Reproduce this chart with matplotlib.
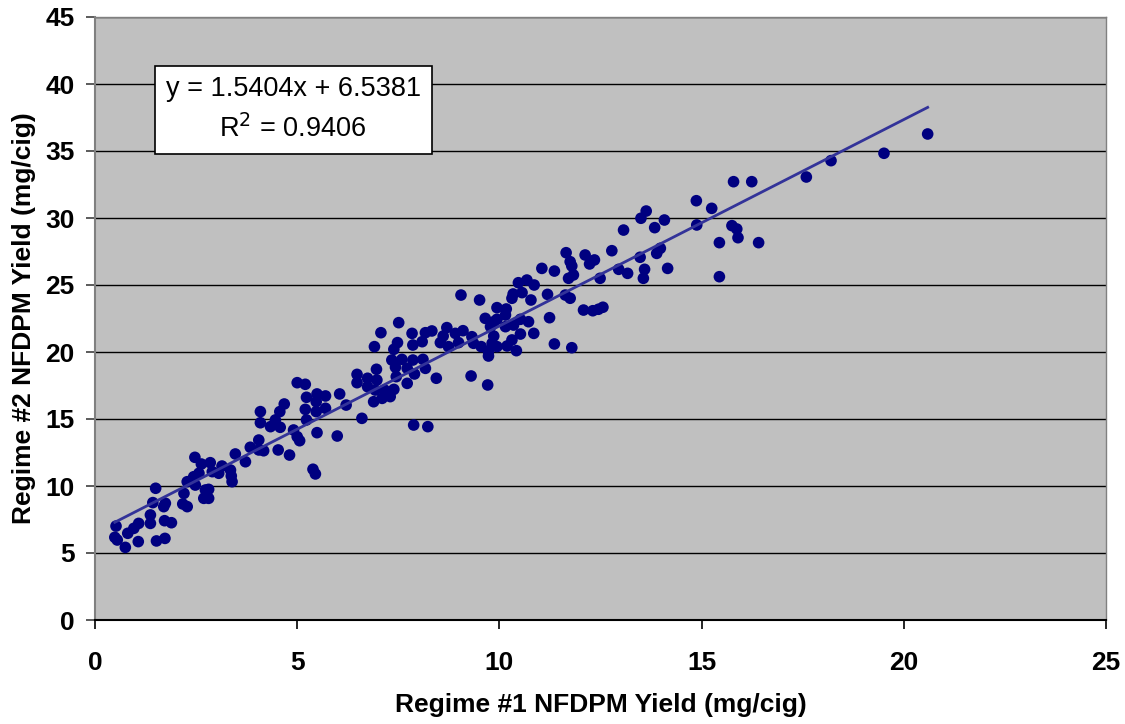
import matplotlib
matplotlib.use("Agg")
import matplotlib.pyplot as plt
import numpy as np

plt.rcParams['font.family'] = ['Liberation Sans', 'DejaVu Sans']

regime1 = [
    0.52, 0.49, 0.55, 0.75, 0.81, 0.96, 1.08, 1.07, 1.37, 1.37, 1.50, 1.43, 1.52, 1.73, 1.74, 1.70, 1.72, 1.89,
    2.20, 2.17, 2.28, 2.28, 2.48, 2.47, 2.44,
    2.73, 2.69, 2.81, 2.81, 2.57, 2.63, 2.85, 2.90, 3.06, 3.14, 3.35, 3.37, 3.39, 3.47, 3.72, 3.84, 4.05, 4.17,
    4.05, 4.53, 4.81, 4.09, 4.09, 4.34, 4.46, 4.57, 4.68, 4.58,
    4.91, 5.00, 5.06, 5.00, 5.20, 5.23, 5.20, 5.23, 5.47, 5.49, 5.47, 5.70, 5.70, 5.49, 5.39, 5.45, 5.99, 6.05,
    6.21, 6.48, 6.48, 6.60,
    6.91, 6.96, 6.89, 7.51, 7.07, 7.84, 8.17, 8.33, 8.70, 8.91, 9.10, 8.61, 8.54, 8.74, 8.99, 9.32, 9.36, 8.09,
    7.86, 7.48, 7.39, 7.34, 7.59, 7.86, 8.11, 7.43, 7.72, 8.17, 7.90, 7.45, 6.74, 6.97, 6.74, 6.93, 7.16, 7.39,
    7.30, 7.10, 7.72, 8.44, 9.30, 7.88, 8.23, 9.05, 9.51,
    9.55, 9.86, 9.82, 9.94, 10.19, 10.31, 10.52, 10.42, 9.73, 9.73, 10.85, 11.36, 11.79, 9.71, 9.94, 10.17,
    10.15, 9.65, 9.86, 9.94, 10.52, 10.72, 10.15, 10.35, 9.78, 11.24, 12.08, 12.31, 12.45, 12.56, 10.68, 10.47,
    10.86, 10.56, 10.34, 10.31, 10.78, 11.19, 11.63, 11.75, 11.05, 11.36, 11.65, 12.12, 12.35, 12.23, 12.78,
    11.75, 11.79, 11.83, 11.71, 12.95, 13.17, 12.49, 13.07,
    13.59, 13.56, 14.16, 13.48, 13.89, 13.98, 13.84, 14.08, 13.50, 13.63, 14.87, 15.25, 14.88, 15.75, 15.87,
    15.90, 15.44, 16.41, 15.44, 15.79, 16.24,
    17.59, 18.20, 19.51, 20.59,
]
regime2 = [
    7.01, 6.17, 5.97, 5.42, 6.47, 6.84, 7.21, 5.85, 7.84, 7.21, 9.83, 8.76, 5.90, 6.09, 8.71, 8.46, 7.41, 7.26,
    9.45, 8.66, 8.46, 10.32, 10.07, 12.14, 10.69,
    9.70, 9.08, 9.08, 9.75, 10.95, 11.64, 11.74, 11.07, 10.95, 11.49, 11.19, 10.75, 10.32, 12.39, 11.81, 12.89,
    12.69, 12.63, 13.43, 12.69, 12.31, 15.55, 14.72, 14.43, 14.93, 15.55, 16.12, 14.38,
    14.18, 13.68, 13.38, 17.71, 17.59, 16.62, 15.72, 14.93, 16.29, 16.87, 15.55, 16.72, 15.80, 13.98, 11.25,
    10.90, 13.73, 16.87, 16.04, 18.33, 17.71, 15.05,
    20.40, 18.71, 16.29, 22.19, 21.44, 21.39, 21.44, 21.57, 21.82, 21.39, 21.59, 21.19, 20.70, 20.40, 20.70,
    21.14, 20.65, 20.77, 20.52, 20.70, 20.20, 19.40, 19.45, 19.40, 19.45, 18.86, 18.78, 18.78, 18.36, 18.16,
    18.04, 17.91, 17.41, 17.16, 17.16, 17.21, 16.67, 16.54, 17.66, 18.04, 18.21, 14.55, 14.43, 24.25, 23.88,
    20.40, 21.19, 20.65, 20.40, 20.45, 20.90, 21.34, 20.10, 20.02, 19.70, 21.39, 20.60, 20.32, 17.54, 23.31,
    23.21, 22.76, 22.51, 22.26, 22.44, 22.44, 22.26, 21.89, 22.01, 21.89, 22.56, 23.13, 23.08, 23.19, 23.34,
    25.37, 25.17, 25.00, 24.43, 24.33, 24.01, 23.88, 24.30, 24.25, 24.01, 26.24, 26.04, 27.41, 27.24, 26.87,
    26.57, 27.56, 26.74, 26.42, 25.75, 25.50, 26.17, 25.87, 25.50, 29.10,
    26.17, 25.50, 26.24, 27.07, 27.36, 27.74, 29.28, 29.85, 29.98, 30.52, 31.29, 30.72, 29.48, 29.43, 29.18,
    28.53, 28.16, 28.16, 25.62, 32.71, 32.71,
    33.06, 34.28, 34.83, 36.27,
]

slope = 1.5404
intercept = 6.5381
r_squared = 0.9406

x_ticks = [0, 5, 10, 15, 20, 25]
y_ticks = [0, 5, 10, 15, 20, 25, 30, 35, 40, 45]
x_label = "Regime #1 NFDPM Yield (mg/cig)"
y_label = "Regime #2 NFDPM Yield (mg/cig)"

fig = plt.figure(figsize=(11.25, 7.24), dpi=100)
ax = fig.add_axes([95/1125, 1 - 620/724, (1106-95)/1125, (620-17)/724])
ax.set_facecolor('#C0C0C0')

ax.set_xlim(0, 25)
ax.set_ylim(0, 45)
ax.set_xticks(x_ticks)
ax.set_yticks(y_ticks)

for yv in y_ticks[1:]:
    ax.axhline(yv, color='black', lw=1.0, zorder=1)

x = np.array(regime1)
y = np.array(regime2)
ax.scatter(x, y, s=70, color='#000080', edgecolors='none', zorder=3)

xl = np.array([x.min(), x.max()])
ax.plot(xl, slope * xl + intercept, color='#333399', lw=2.0, zorder=4)

for s in ['top', 'right']:
    ax.spines[s].set_color('#808080')
    ax.spines[s].set_linewidth(1.0)
ax.spines['left'].set_color('#808080')
ax.spines['left'].set_linewidth(1.5)
ax.spines['bottom'].set_color('black')
ax.spines['bottom'].set_linewidth(1.5)

ax.tick_params(axis='both', direction='out', length=6.5, width=1.2, colors='black',
               labelsize=19)
ax.tick_params(axis='x', pad=16)
ax.tick_params(axis='y', pad=8, color='#404040')
for lab in ax.get_xticklabels() + ax.get_yticklabels():
    lab.set_fontweight('bold')

ax.set_xlabel(x_label, fontsize=19, fontweight='bold', labelpad=13)
ax.set_ylabel(y_label, fontsize=19, fontweight='bold', labelpad=6.5)

txt = f"y = {slope:.4f}x + {intercept:.4f}\nR$^2$ = {r_squared:.4f}"
ax.text(0.196, 0.846, txt, transform=ax.transAxes, ha='center', va='center',
        fontsize=19.5, linespacing=1.55, zorder=5,
        bbox=dict(boxstyle='square,pad=0.4', facecolor='white', edgecolor='black', lw=1.2))

fig.savefig('out.png', dpi=100)
